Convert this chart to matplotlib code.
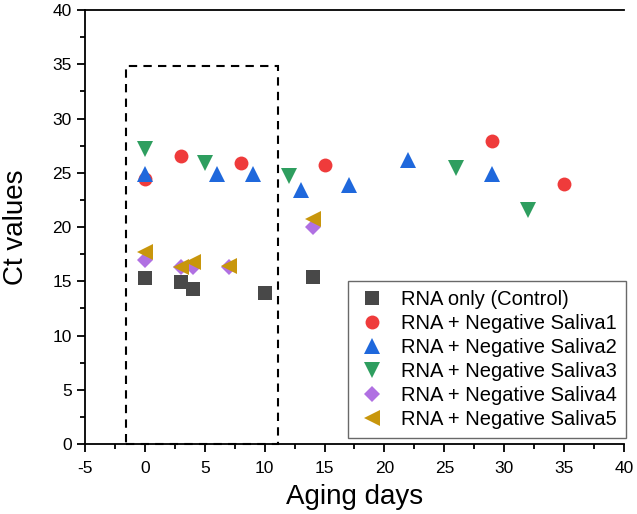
import matplotlib
matplotlib.use("Agg")
import matplotlib.pyplot as plt
from matplotlib.patches import Rectangle
from matplotlib.ticker import MultipleLocator

plt.rcParams["font.family"] = ["Liberation Sans", "DejaVu Sans"]
plt.rcParams["axes.unicode_minus"] = False

# ── Data ──────────────────────────────────────────────────────────────────────
ctrl_x = [0, 3, 4, 10, 14]
ctrl_y = [15.3, 14.9, 14.3, 13.9, 15.4]

sal1_x = [0, 3, 8, 15, 29, 35]
sal1_y = [24.4, 26.5, 25.9, 25.7, 27.9, 24.0]

sal2_x = [0, 6, 9, 13, 17, 22, 29]
sal2_y = [24.9, 24.9, 24.9, 23.4, 23.9, 26.2, 24.9]

sal3_x = [0, 5, 12, 26, 32]
sal3_y = [27.2, 25.9, 24.7, 25.4, 21.6]

sal4_x = [0, 3, 4, 7, 14]
sal4_y = [17.0, 16.3, 16.3, 16.3, 20.0]

sal5_x = [0, 3, 4, 7, 14]
sal5_y = [17.7, 16.3, 16.8, 16.4, 20.7]

labels = [
    "RNA only (Control)",
    "RNA + Negative Saliva1",
    "RNA + Negative Saliva2",
    "RNA + Negative Saliva3",
    "RNA + Negative Saliva4",
    "RNA + Negative Saliva5",
]

series = [
    (ctrl_x, ctrl_y, "s", "#484848", 9.5),
    (sal1_x, sal1_y, "o", "#ef3b3b", 10),
    (sal2_x, sal2_y, "^", "#1f68dc", 11.5),
    (sal3_x, sal3_y, "v", "#2e9e5f", 11.5),
    (sal4_x, sal4_y, "D", "#b070e2", 8),
    (sal5_x, sal5_y, "<", "#c8960c", 11.5),
]

fig = plt.figure(figsize=(6.37, 5.14), dpi=100)
ax = fig.add_axes([0.1334, 0.1362, 0.8462, 0.8443])

for (x, y, m, c, ms), lab in zip(series, labels):
    ax.plot(x, y, linestyle="none", marker=m, color=c, markersize=ms,
            markeredgewidth=0, label=lab)

# dashed highlight box
ax.add_patch(Rectangle((-1.6, 0), 12.7, 34.8, fill=False, linestyle=(0, (4, 3)),
                       linewidth=1.5, edgecolor="black", zorder=5, clip_on=False))

ax.set_xlim(-5, 40)
ax.set_ylim(0, 40)
ax.xaxis.set_major_locator(MultipleLocator(5))
ax.yaxis.set_major_locator(MultipleLocator(5))
ax.xaxis.set_minor_locator(MultipleLocator(2.5))
ax.yaxis.set_minor_locator(MultipleLocator(2.5))
ax.tick_params(which="both", direction="out", width=1.3, labelsize=12.5)
ax.tick_params(which="major", length=6)
ax.tick_params(which="minor", length=3.5)
ax.tick_params(axis="x", which="major", pad=6)

ax.spines["right"].set_visible(False)
for s in ["left", "bottom", "top"]:
    ax.spines[s].set_linewidth(1.3)

ax.set_xlabel("Aging days", fontsize=20, labelpad=6)
ax.set_ylabel("Ct values", fontsize=20, labelpad=17)

leg = ax.legend(loc="lower right", fontsize=14.5, frameon=True, fancybox=False,
                edgecolor="#444444", handletextpad=0.65, labelspacing=0.25,
                borderpad=0.45, borderaxespad=0, handlelength=1.5,
                bbox_to_anchor=(1.003, 0.014))
leg.get_frame().set_linewidth(1.0)

fig.savefig("out.png", dpi=100)
